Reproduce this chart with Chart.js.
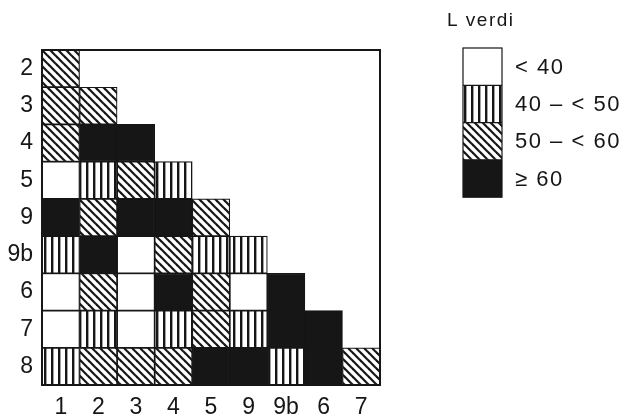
<!DOCTYPE html>
<html>
<head>
<meta charset="utf-8">
<script src="https://cdn.jsdelivr.net/npm/chart.js@4.4.0/dist/chart.umd.min.js"></script>
<style>
html, body { margin: 0; padding: 0; background: #fff; }
#wrap { position: relative; width: 632px; height: 419px; }
</style>
</head>
<body>
<div id="wrap"><canvas id="chart"></canvas></div>
<script>
// rows top to bottom, columns left to right
const rowLabels = ['2', '3', '4', '5', '9', '9b', '6', '7', '8'];
const colLabels = ['1', '2', '3', '4', '5', '9', '9b', '6', '7'];

// class of each cell: 0 = <40, 1 = 40-<50, 2 = 50-<60, 3 = >=60
const row2  = [2];
const row3  = [2, 2];
const row4  = [2, 3, 3];
const row5  = [0, 1, 2, 1];
const row9  = [3, 2, 3, 3, 2];
const row9b = [1, 3, 0, 2, 1, 1];
const row6  = [0, 2, 0, 3, 2, 0, 3];
const row7  = [0, 1, 0, 1, 2, 1, 3, 3];
const row8  = [1, 2, 2, 2, 3, 3, 1, 3, 2];
const levels = [row2, row3, row4, row5, row9, row9b, row6, row7, row8];

const legendTitle = 'L verdi';
const legendLabels = ['< 40', '40 \u2013 < 50', '50 \u2013 < 60', '\u2265 60'];

const ink = '#161616';
const font = '"Liberation Sans", Arial, sans-serif';

// hatch fills
function makeFill(kind) {
    if (kind == 0) return '#ffffff';
    if (kind == 3) return ink;
    const c = document.createElement('canvas');
    const s = kind == 1 ? 7 : 8;
    c.width = s; c.height = s;
    const g = c.getContext('2d');
    g.fillStyle = '#fff';
    g.fillRect(0, 0, s, s);
    if (kind == 1) {
        g.fillStyle = ink;
        g.fillRect(2, 0, 2.4, s);
    } else {
        g.strokeStyle = ink;
        g.lineWidth = 2.2;
        for (let k = -s; k <= s; k += s) {
            g.beginPath();
            g.moveTo(-2, -2 + k);
            g.lineTo(s + 2, s + 2 + k);
            g.stroke();
        }
    }
    return g.createPattern(c, 'repeat');
}
const fills = [0, 1, 2, 3].map(makeFill);

// one dataset per row, floating bars span one row band
const n = rowLabels.length;
const datasets = rowLabels.map(function(r, i) {
    return {
        label: r,
        data: colLabels.map((c, j) => j <= i ? [n - 1 - i, n - i] : null),
        backgroundColor: colLabels.map((c, j) => j <= i ? fills[levels[i][j]] : 'rgba(0,0,0,0)'),
        borderColor: ink,
        borderWidth: 1.2,
        borderSkipped: false,
        categoryPercentage: 1,
        barPercentage: 1,
        grouped: false
    };
});

// frame + legend
const extras = {
    id: 'extras',
    afterDatasetsDraw(chart) {
        const ctx = chart.ctx;
        const a = chart.chartArea;
        ctx.save();
        ctx.strokeStyle = ink;
        ctx.lineWidth = 2;
        ctx.strokeRect(a.left, a.top, a.right - a.left, a.bottom - a.top);

        ctx.fillStyle = ink;
        ctx.font = '19px ' + font;
        ctx.textBaseline = 'middle';
        ctx.textAlign = 'left';
        ctx.letterSpacing = '1.5px';
        ctx.fillText(legendTitle, 447, 21);

        const bx = 463, bw = 39, by = 48, bh = 37.3;
        ctx.font = '22px ' + font;
        legendLabels.forEach(function(t, k) {
            const y = by + k * bh;
            ctx.fillStyle = fills[k];
            ctx.fillRect(bx, y, bw, bh);
            ctx.fillStyle = ink;
            ctx.fillText(t, 515, y + bh / 2 + 1);
        });
        ctx.letterSpacing = '0px';
        ctx.lineWidth = 1.2;
        ctx.strokeRect(bx, by, bw, bh * 4);
        for (let k = 1; k < 4; k++) {
            ctx.beginPath();
            ctx.moveTo(bx, by + k * bh);
            ctx.lineTo(bx + bw, by + k * bh);
            ctx.stroke();
        }
        ctx.restore();
    }
};

const ctx = document.getElementById('chart');
const myChart = new Chart(ctx, {
    type: 'bar',
    data: { labels: colLabels, datasets: datasets },
    options: {
        responsive: true,
        maintainAspectRatio: false,
        animation: false,
        layout: { padding: { top: 50, right: 252, left: 0, bottom: 0 } },
        plugins: { legend: { display: false }, tooltip: { enabled: false } },
        scales: {
            x: {
                grid: { display: false, drawTicks: false },
                border: { display: false },
                ticks: { color: ink, font: { family: font, size: 23 }, padding: 9, autoSkip: false, maxRotation: 0 },
                afterFit: function(scale) { scale.height = 34; }
            },
            y: {
                min: 0,
                max: n,
                grid: { display: false, drawTicks: false },
                border: { display: false },
                afterBuildTicks: function(axis) {
                    axis.ticks = rowLabels.map((r, i) => ({ value: n - 0.5 - i }));
                },
                ticks: {
                    color: ink,
                    font: { family: font, size: 23 },
                    padding: 9,
                    autoSkip: false,
                    callback: function(v) { return rowLabels[Math.round(n - 0.5 - v)]; }
                },
                afterFit: function(scale) { scale.width = 42; }
            }
        }
    },
    plugins: [extras]
});
</script>
</body>
</html>
